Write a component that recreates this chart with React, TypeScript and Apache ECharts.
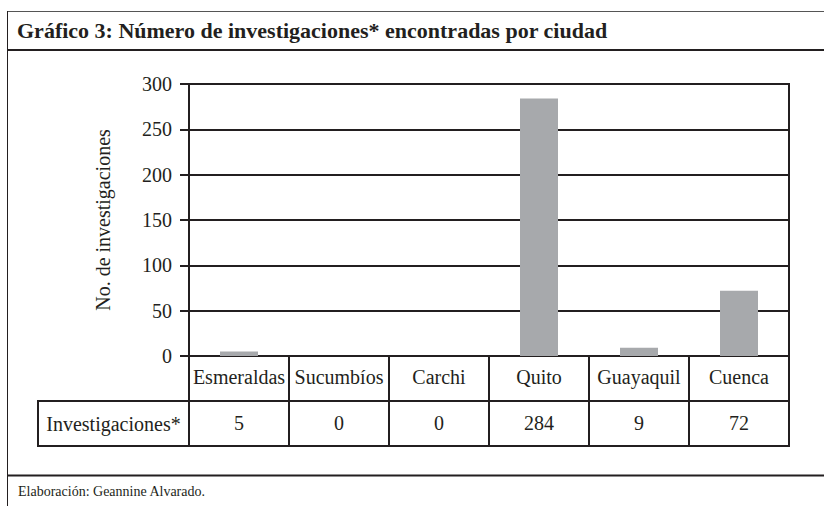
import React, { useEffect, useRef } from "react";
import * as echarts from "echarts";

const categories = ["Esmeraldas", "Sucumbíos", "Carchi", "Quito", "Guayaquil", "Cuenca"];
const values = [5, 0, 0, 284, 9, 72];
const yTicks = [0, 50, 100, 150, 200, 250, 300];
const titleText = "Gráfico 3: Número de investigaciones* encontradas por ciudad";
const yAxisName = "No. de investigaciones";
const rowHeader = "Investigaciones*";
const footerText = "Elaboración: Geannine Alvarado.";

const W = 824;
const H = 506;
const FONT = "Liberation Serif";
const DARK = "#231f20";
const BAR = "#a7a9ac";

// layout
const G_LEFT = 189;
const G_RIGHT = 789;
const G_TOP = 84;
const G_BOTTOM = 356;
const ROW1 = 401;
const ROW2 = 446;
const TABLE_LEFT = 38;

export default function App() {
  const ref = useRef<HTMLDivElement>(null);
  useEffect(() => {
    if (!ref.current) return;
    const chart = echarts.init(ref.current, undefined, { renderer: "svg" });
    const line = (x1: number, y1: number, x2: number, y2: number, w: number, c = DARK) => ({
      type: "line",
      shape: { x1, y1, x2, y2 },
      style: { stroke: c, lineWidth: w },
      z: 10,
    });
    chart.setOption({
      animation: false,
      backgroundColor: "#ffffff",
      textStyle: { fontFamily: FONT, color: DARK },
      grid: {
        left: G_LEFT,
        right: W - G_RIGHT,
        top: G_TOP,
        bottom: H - G_BOTTOM,
        containLabel: false,
        outerBoundsMode: "none",
        show: true,
        borderColor: DARK,
        borderWidth: 2,
        backgroundColor: "transparent",
      },
      xAxis: [
        {
          type: "category",
          data: categories,
          position: "bottom",
          axisLine: { show: true, lineStyle: { color: DARK, width: 2 } },
          axisTick: { show: true, interval: 0, length: ROW2 - G_BOTTOM, lineStyle: { color: DARK, width: 2 } },
          axisLabel: { interval: 0, margin: 11, fontFamily: FONT, fontSize: 20, color: DARK },
          splitLine: { show: false },
        },
        {
          type: "category",
          data: values.map((v) => String(v)),
          position: "bottom",
          offset: 0,
          axisLine: { show: false },
          axisTick: { show: false },
          axisLabel: { interval: 0, margin: 57, fontFamily: FONT, fontSize: 20, color: DARK },
          splitLine: { show: false },
        },
      ],
      yAxis: {
        type: "value",
        min: yTicks[0],
        max: yTicks[yTicks.length - 1],
        interval: yTicks[1] - yTicks[0],
        name: yAxisName,
        nameLocation: "middle",
        nameGap: 76,
        nameTextStyle: { fontFamily: FONT, fontSize: 20, color: DARK },
        axisLine: { show: true, lineStyle: { color: DARK, width: 2 } },
        axisTick: { show: true, length: 9, lineStyle: { color: DARK, width: 2 } },
        axisLabel: { margin: 17, fontFamily: FONT, fontSize: 20, color: DARK },
        splitLine: { show: true, lineStyle: { color: DARK, width: 2 } },
      },
      series: [
        {
          type: "bar",
          data: values,
          xAxisIndex: 0,
          barWidth: "38%",
          itemStyle: { color: BAR },
          z: 3,
        },
      ],
      graphic: [
        line(7, 11.5, W, 11.5, 1, "#555555"),
        line(7.5, 11, 7.5, H, 1),
        line(7, 50, W, 50, 2),
        line(7, 475.5, W, 475.5, 2),
        line(TABLE_LEFT, ROW1, G_RIGHT + 1, ROW1, 2),
        line(TABLE_LEFT, ROW2, G_RIGHT + 1, ROW2, 2),
        line(TABLE_LEFT, ROW1 - 1, TABLE_LEFT, ROW2 + 1, 2),
        {
          type: "text",
          x: 17,
          y: 30,
          style: {
            text: titleText,
            fontFamily: FONT,
            fontSize: 22,
            fontWeight: "bold",
            fill: DARK,
            verticalAlign: "middle",
            align: "left",
          },
        },
        {
          type: "text",
          x: (TABLE_LEFT + G_LEFT) / 2,
          y: (ROW1 + ROW2) / 2,
          style: {
            text: rowHeader,
            fontFamily: FONT,
            fontSize: 20,
            fill: DARK,
            verticalAlign: "middle",
            align: "center",
          },
        },
        {
          type: "text",
          x: 18,
          y: 491,
          style: {
            text: footerText,
            fontFamily: FONT,
            fontSize: 14,
            fill: DARK,
            verticalAlign: "middle",
            align: "left",
          },
        },
      ],
    });
    return () => chart.dispose();
  }, []);
  return (
    <div
      ref={ref}
      style={{ position: "absolute", left: 0, top: 0, width: W, height: H, background: "#fff" }}
    />
  );
}
